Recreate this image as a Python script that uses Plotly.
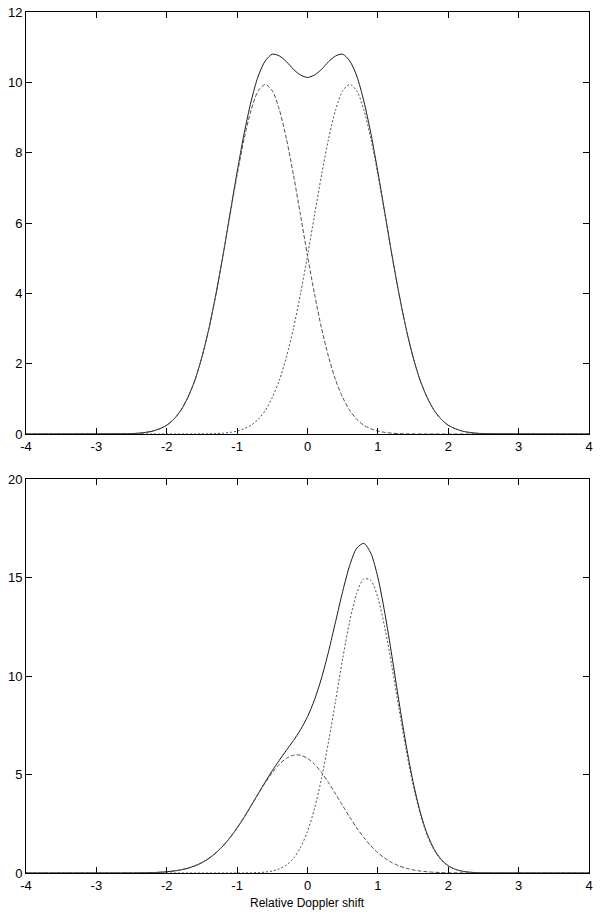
import plotly.graph_objects as go

# ---- data ----
x_vals = [-4.0] + [round(-2.5 + 0.1 * k, 1) for k in range(51)] + [4.0]

top_left = [0, 0.012, 0.023, 0.045, 0.083, 0.15, 0.25, 0.42, 0.67, 1.04, 1.53,
            2.19, 3.00, 3.98, 5.07, 6.23, 7.37, 8.40, 9.22, 9.76, 9.94,
            9.76, 9.22, 8.40, 7.37, 6.23, 5.07, 3.98, 3.00, 2.19, 1.53,
            1.04, 0.67, 0.42, 0.25, 0.15, 0.083, 0.045, 0.023, 0.012, 0.006,
            0.003, 0.001, 0, 0, 0, 0, 0, 0, 0, 0, 0, 0]
top_right = [0, 0, 0, 0, 0, 0, 0, 0, 0, 0, 0.001,
             0.003, 0.006, 0.012, 0.023, 0.045, 0.083, 0.15, 0.25, 0.42, 0.67,
             1.04, 1.53, 2.19, 3.00, 3.98, 5.07, 6.23, 7.37, 8.40, 9.22,
             9.76, 9.94, 9.76, 9.22, 8.40, 7.37, 6.23, 5.07, 3.98, 3.00,
             2.19, 1.53, 1.04, 0.67, 0.42, 0.25, 0.15, 0.083, 0.045, 0.023, 0.012, 0]
top_total = [0, 0.012, 0.023, 0.045, 0.083, 0.15, 0.25, 0.42, 0.67, 1.04, 1.53,
             2.19, 3.01, 3.99, 5.09, 6.28, 7.45, 8.55, 9.47, 10.18, 10.61,
             10.80, 10.75, 10.59, 10.37, 10.21, 10.14, 10.21, 10.37, 10.59, 10.75,
             10.80, 10.61, 10.18, 9.47, 8.55, 7.45, 6.28, 5.09, 3.99, 3.01,
             2.19, 1.53, 1.04, 0.67, 0.42, 0.25, 0.15, 0.083, 0.045, 0.023, 0.012, 0]

bot_left = [0, 0.004, 0.007, 0.013, 0.022, 0.038, 0.063, 0.101, 0.159, 0.244, 0.364,
            0.528, 0.747, 1.029, 1.379, 1.801, 2.290, 2.834, 3.416, 4.009, 4.580,
            5.096, 5.520, 5.822, 5.980, 5.980, 5.822, 5.520, 5.096, 4.580, 4.009,
            3.416, 2.834, 2.290, 1.801, 1.379, 1.029, 0.747, 0.528, 0.364, 0.244,
            0.159, 0.101, 0.063, 0.038, 0.022, 0.013, 0.007, 0.004, 0.002, 0.001, 0.0005, 0]
bot_right = [0, 0, 0, 0, 0, 0, 0, 0, 0, 0, 0,
             0, 0, 0, 0, 0, 0.001, 0.003, 0.009, 0.021, 0.047,
             0.102, 0.209, 0.406, 0.744, 1.289, 2.113, 3.278, 4.808, 6.674, 8.762,
             10.88, 12.78, 14.20, 14.93, 14.85, 13.97, 12.43, 10.47, 8.334, 6.278,
             4.473, 3.015, 1.923, 1.160, 0.662, 0.357, 0.182, 0.088, 0.040, 0.017, 0.007, 0]
bot_total = [0, 0.004, 0.007, 0.013, 0.022, 0.038, 0.063, 0.101, 0.159, 0.244, 0.364,
             0.528, 0.747, 1.029, 1.379, 1.801, 2.291, 2.837, 3.425, 4.030, 4.627,
             5.198, 5.729, 6.228, 6.724, 7.269, 7.935, 8.798, 9.904, 11.254, 12.771,
             14.296, 15.614, 16.49, 16.731, 16.229, 14.999, 13.177, 10.998, 8.698, 6.522,
             4.632, 3.116, 1.986, 1.198, 0.684, 0.370, 0.189, 0.092, 0.042, 0.018, 0.008, 0]

x_ticks = [-4, -3, -2, -1, 0, 1, 2, 3, 4]
x_ticklabels = ["-4", "-3", "-2", "-1", "0", "1", "2", "3", "4"]
top_yticks = [0, 2, 4, 6, 8, 10, 12]
bot_yticks = [0, 5, 10, 15, 20]
x_title = "Relative Doppler shift"

# ---- figure ----
fig = go.Figure()

solid = dict(color="#1a1a1a", width=1, shape="spline", smoothing=0.8)
longdash = dict(color="#505050", width=1, dash="4px,2px", shape="spline", smoothing=0.8)
shortdash = dict(color="#505050", width=1, dash="2px,2px", shape="spline", smoothing=0.8)

fig.add_trace(go.Scatter(x=x_vals, y=top_total, mode="lines", line=solid, xaxis="x", yaxis="y"))
fig.add_trace(go.Scatter(x=x_vals, y=top_left, mode="lines", line=longdash, xaxis="x", yaxis="y"))
fig.add_trace(go.Scatter(x=x_vals, y=top_right, mode="lines", line=shortdash, xaxis="x", yaxis="y"))

fig.add_trace(go.Scatter(x=x_vals, y=bot_total, mode="lines", line=solid, xaxis="x2", yaxis="y2"))
fig.add_trace(go.Scatter(x=x_vals, y=bot_left, mode="lines", line=longdash, xaxis="x2", yaxis="y2"))
fig.add_trace(go.Scatter(x=x_vals, y=bot_right, mode="lines", line=shortdash, xaxis="x2", yaxis="y2"))

font = dict(family="Liberation Sans, Arial, sans-serif", size=13, color="black")

axis_common = dict(
    showline=True, linecolor="black", linewidth=1, mirror="ticks",
    ticks="inside", ticklen=6, tickwidth=1, tickcolor="black",
    showgrid=False, zeroline=False, tickfont=font, automargin=False,
)

plot_top, plot_bot = 12, 873
H = plot_bot - plot_top
top_dom = [(plot_bot - 434) / H, 1.0]
bot_dom = [0.0, (plot_bot - 479) / H]

fig.update_layout(
    width=600, height=915,
    margin=dict(l=26, r=11, t=plot_top, b=915 - plot_bot),
    paper_bgcolor="white", plot_bgcolor="white",
    showlegend=False, font=font, hovermode=False,
    xaxis=dict(axis_common, domain=[0, 1], range=[-4, 4], tickvals=x_ticks,
               ticktext=x_ticklabels, anchor="y"),
    yaxis=dict(axis_common, domain=top_dom, range=[0, 12], tickvals=top_yticks, anchor="x"),
    xaxis2=dict(axis_common, domain=[0, 1], range=[-4, 4], tickvals=x_ticks,
                ticktext=x_ticklabels, anchor="y2"),
    yaxis2=dict(axis_common, domain=bot_dom, range=[0, 20], tickvals=bot_yticks, anchor="x2"),
    annotations=[dict(text=x_title, xref="paper", yref="paper", x=0.5, y=0,
                      yshift=-30, showarrow=False, xanchor="center", yanchor="middle",
                      font=dict(family="Liberation Sans, Arial, sans-serif", size=12, color="black"))],
)

fig.write_html(
    "out.html",
    config={"displayModeBar": False},
    post_script="document.body.style.margin='0';document.body.style.overflow='hidden';",
)
